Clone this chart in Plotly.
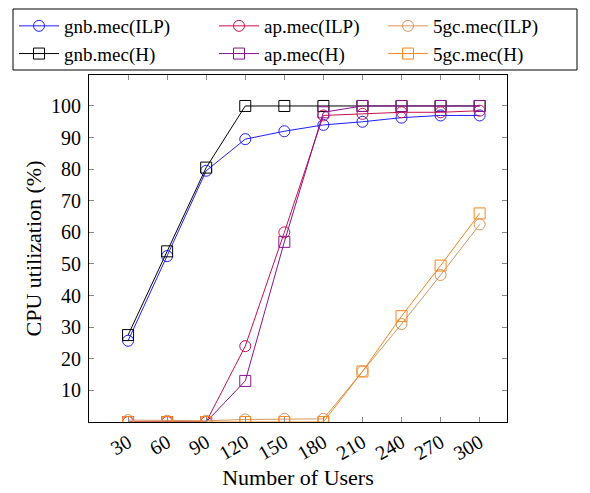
import plotly.graph_objects as go

users = [30, 60, 90, 120, 150, 180, 210, 240, 270, 300]
gnb_ilp = [25.7, 52.5, 79.5, 89.5, 92.0, 94.0, 95.0, 96.3, 97.0, 97.0]
gnb_h = [27.5, 54.0, 80.5, 100, 100, 100, 100, 100, 100, 100]
ap_ilp = [0, 0, 0, 24.0, 60.0, 97.0, 97.5, 98.0, 98.0, 98.5]
ap_h = [0, 0, 0, 13.0, 57.0, 98.0, 100, 100, 100, 100]
fgc_ilp = [0.6, 0.4, 0.4, 0.8, 1.0, 1.0, 16.0, 31.0, 46.5, 62.5]
fgc_h = [0, 0, 0, 0, 0, 0, 16.0, 33.5, 49.5, 66.0]
y_ticks = [10, 20, 30, 40, 50, 60, 70, 80, 90, 100]

# (name, values, colour, marker, legend column)
series = [
    ("gnb.mec(ILP)", gnb_ilp, "#1f1fff", "circle-open", "legend"),
    ("gnb.mec(H)", gnb_h, "#000000", "square-open", "legend"),
    ("ap.mec(ILP)", ap_ilp, "#c8104f", "circle-open", "legend2"),
    ("ap.mec(H)", ap_h, "#8a138f", "square-open", "legend2"),
    ("5gc.mec(ILP)", fgc_ilp, "#d4965e", "circle-open", "legend3"),
    ("5gc.mec(H)", fgc_h, "#f7861c", "square-open", "legend3"),
]

fig = go.Figure()
for name, vals, col, sym, leg in series:
    fig.add_trace(go.Scatter(
        x=users, y=vals, name=name, mode="lines+markers", legend=leg,
        line=dict(color=col, width=1),
        marker=dict(symbol=sym, size=11, color=col, line=dict(color=col, width=1)),
    ))

font = "Liberation Serif, DejaVu Serif, serif"
# page body has an 8px margin: plot area on screen 89..507 x 75..422
L, T, PW, PH = 81, 67, 418, 347


def px_x(x):
    return (x - L) / PW


def px_y(y):
    return 1 + (T - y) / PH


def leg(xpix):
    return dict(
        orientation="v", x=px_x(xpix), xanchor="left", xref="paper",
        y=px_y(-1), yanchor="top", yref="paper",
        bgcolor="rgba(0,0,0,0)", borderwidth=0,
        font=dict(family=font, size=19), tracegroupgap=0, itemwidth=40,
    )


fig.update_layout(
    width=590, height=493,
    paper_bgcolor="white", plot_bgcolor="white",
    margin=dict(l=L, r=590 - L - PW, t=T, b=493 - T - PH, autoexpand=False),
    font=dict(family=font, size=20, color="black"),
    legend=leg(6),
    legend2=leg(206),
    legend3=leg(375),
    shapes=[dict(
        type="rect", xref="paper", yref="paper",
        x0=px_x(5), x1=px_x(569), y0=px_y(62), y1=px_y(1),
        line=dict(color="black", width=1), fillcolor="rgba(0,0,0,0)", layer="below",
    )],
    xaxis=dict(
        range=[0, 321], tickvals=users, ticktext=[str(u) for u in users],
        tickangle=-30, ticks="inside", ticklen=5, tickcolor="#888888",
        showgrid=False, zeroline=False, showline=True, linecolor="black",
        linewidth=1, mirror="ticks", automargin=False,
        title=dict(text="Number of Users", font=dict(size=22), standoff=6),
        tickfont=dict(size=20),
    ),
    yaxis=dict(
        range=[0, 109.8], tickvals=y_ticks, ticks="inside", ticklen=5,
        tickcolor="#888888", showgrid=False, zeroline=False, showline=True,
        linecolor="black", linewidth=1, mirror="ticks", automargin=False,
        ticklabelstandoff=3,
        title=dict(text="CPU utilization (%)", font=dict(size=22), standoff=3),
        tickfont=dict(size=20),
    ),
)

fig.write_html("out.html")
